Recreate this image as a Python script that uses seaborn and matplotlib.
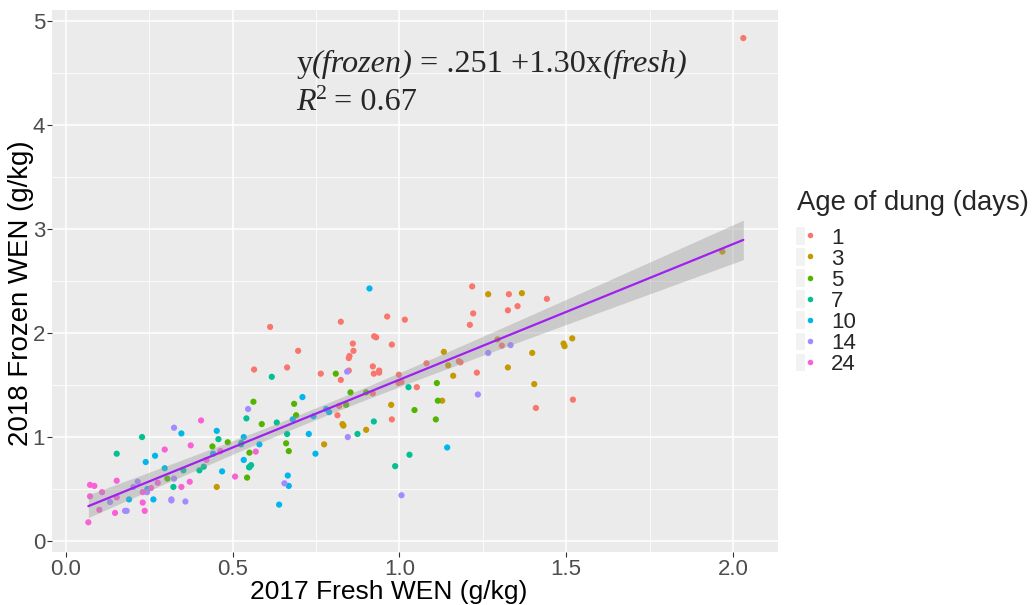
import numpy as np
import pandas as pd
import matplotlib
matplotlib.use("Agg")
import matplotlib.pyplot as plt
import matplotlib.transforms as mtransforms
import seaborn as sns
from matplotlib.lines import Line2D
from matplotlib.patches import Patch
from matplotlib.legend_handler import HandlerTuple
from matplotlib.ticker import MultipleLocator

# ---- data ----
age_levels = ["1", "3", "5", "7", "10", "14", "24"]

fresh_1 = [0.612, 0.696, 0.564, 0.663, 0.924, 0.93, 0.977, 0.86, 0.862, 0.85, 0.848, 0.848, 0.764, 0.824,
           0.92, 0.923, 0.939, 0.939, 0.998, 0.997, 1.006, 0.92, 0.819, 0.814, 0.977, 1.052, 1.081, 1.178,
           1.183, 1.232, 1.307, 1.409, 0.824, 0.963, 1.016, 1.218, 1.328, 1.325, 1.354, 1.442, 1.221, 1.211,
           1.52, 2.031]
frozen_1 = [2.06, 1.83, 1.65, 1.67, 1.97, 1.96, 1.89, 1.90, 1.83, 1.78, 1.76, 1.64, 1.61, 1.55,
            1.68, 1.61, 1.64, 1.62, 1.60, 1.52, 1.53, 1.42, 1.30, 1.21, 1.17, 1.48, 1.71, 1.73,
            1.72, 1.62, 1.88, 1.28, 2.11, 2.16, 2.13, 2.45, 2.375, 2.22, 2.26, 2.33, 2.19, 2.08,
            1.36, 4.84]

fresh_3 = [0.452, 0.774, 0.829, 0.832, 0.90, 0.975, 1.128, 1.133, 1.146, 1.161, 1.294, 1.398, 1.325, 1.404,
           1.266, 1.367, 1.492, 1.495, 1.518, 1.968]
frozen_3 = [0.52, 0.93, 1.125, 1.11, 1.07, 1.31, 1.35, 1.82, 1.69, 1.59, 1.94, 1.81, 1.67, 1.51,
            2.375, 2.385, 1.90, 1.875, 1.95, 2.785]

fresh_5 = [0.304, 0.684, 0.69, 0.66, 0.668, 0.587, 0.562, 0.55, 0.543, 0.485, 0.439, 0.809, 0.853, 0.90,
           0.84, 1.045, 1.112, 1.115, 1.109]
frozen_5 = [0.60, 1.32, 1.21, 0.94, 0.865, 1.125, 1.34, 0.85, 0.61, 0.95, 0.91, 1.61, 1.43, 1.43,
            1.31, 1.26, 1.52, 1.35, 1.17]

fresh_7 = [0.152, 0.322, 0.663, 0.632, 0.541, 0.526, 0.525, 0.549, 0.555, 0.55, 0.457, 0.413, 0.40, 0.228,
           0.352, 0.617, 0.874, 0.923, 1.027, 0.987, 1.03]
frozen_7 = [0.84, 0.52, 1.03, 1.14, 1.18, 0.945, 0.93, 0.71, 0.73, 0.71, 0.98, 0.715, 0.68, 1.0,
            0.68, 1.58, 1.03, 1.15, 1.48, 0.72, 0.83]

fresh_10 = [0.239, 0.267, 0.189, 0.244, 0.262, 0.296, 0.709, 0.68, 0.728, 0.665, 0.668, 0.639, 0.58, 0.533,
            0.533, 0.452, 0.441, 0.468, 0.346, 0.748, 0.78, 0.789, 0.742, 0.91, 1.143]
frozen_10 = [0.76, 0.82, 0.40, 0.50, 0.40, 0.70, 1.385, 1.17, 1.03, 0.63, 0.53, 0.35, 0.93, 0.78,
             1.0, 1.06, 0.84, 0.67, 1.035, 0.84, 1.27, 1.24, 1.20, 2.43, 0.90]

fresh_14 = [0.132, 0.177, 0.182, 0.202, 0.215, 0.243, 0.316, 0.316, 0.324, 0.324, 0.358, 0.546, 0.655, 0.843,
            0.845, 1.006, 1.235, 1.266, 1.333]
frozen_14 = [0.375, 0.29, 0.29, 0.52, 0.57, 0.47, 0.40, 0.39, 0.60, 1.09, 0.38, 1.27, 0.555, 1.63,
             1.0, 0.44, 1.41, 1.81, 1.885]

fresh_24 = [0.072, 0.085, 0.152, 0.072, 0.108, 0.152, 0.10, 0.147, 0.067, 0.23, 0.23, 0.236, 0.255, 0.275,
            0.296, 0.405, 0.421, 0.374, 0.371, 0.346, 0.569, 0.507, 0.463]
frozen_24 = [0.54, 0.53, 0.58, 0.43, 0.47, 0.42, 0.30, 0.27, 0.18, 0.47, 0.37, 0.29, 0.51, 0.56,
             0.88, 1.16, 0.78, 0.92, 0.57, 0.52, 0.86, 0.62, 0.865]

groups = {
    "1": (fresh_1, frozen_1), "3": (fresh_3, frozen_3), "5": (fresh_5, frozen_5),
    "7": (fresh_7, frozen_7), "10": (fresh_10, frozen_10), "14": (fresh_14, frozen_14),
    "24": (fresh_24, frozen_24),
}
rows = []
for age, (xs, ys) in groups.items():
    for xv, yv in zip(xs, ys):
        rows.append((xv, yv, age))
df = pd.DataFrame(rows, columns=["fresh", "frozen", "age"])

palette = ["#F8766D", "#C49A00", "#53B400", "#00C094", "#00B6EB", "#A58AFF", "#FB61D7"]
pal = dict(zip(age_levels, palette))

# ---- plot ----
sns.set_theme(style="white")
plt.rcParams["font.family"] = ["Liberation Sans", "DejaVu Sans"]

fig = plt.figure(figsize=(10.34, 6.05), dpi=100)
ax = fig.add_axes([52 / 1034, 1 - 552 / 605, (778 - 52) / 1034, (552 - 10) / 605])
ax.set_facecolor("#EBEBEB")

sns.scatterplot(data=df, x="fresh", y="frozen", hue="age", hue_order=age_levels,
                palette=pal, s=20, edgecolor="none", linewidth=0, legend=False, ax=ax, zorder=2)

# linear-model confidence band (analytical, like geom_smooth(method="lm"))
xv = df["fresh"].to_numpy()
yv = df["frozen"].to_numpy()
n = len(xv)
slope, intercept = np.polyfit(xv, yv, 1)
resid = yv - (intercept + slope * xv)
s_err = np.sqrt(np.sum(resid ** 2) / (n - 2))
xg = np.linspace(xv.min(), xv.max(), 100)
yg = intercept + slope * xg
se = s_err * np.sqrt(1 / n + (xg - xv.mean()) ** 2 / np.sum((xv - xv.mean()) ** 2))
tval = 1.974
ax.fill_between(xg, yg - tval * se, yg + tval * se, color=(0.6, 0.6, 0.6), alpha=0.4,
                linewidth=0, zorder=3)
sns.regplot(data=df, x="fresh", y="frozen", scatter=False, ci=None, color="#A020F0",
            line_kws={"lw": 1.6, "zorder": 4}, ax=ax)

ax.set_xlim(-0.042, 2.135)
ax.set_ylim(-0.106, 5.11)
ax.xaxis.set_minor_locator(MultipleLocator(0.25))
ax.yaxis.set_minor_locator(MultipleLocator(0.5))
ax.set_xticks([0, 0.5, 1.0, 1.5, 2.0])
ax.set_xticklabels(["0.0", "0.5", "1.0", "1.5", "2.0"])
ax.set_yticks([0, 1, 2, 3, 4, 5])
ax.set_yticklabels(["0", "1", "2", "3", "4", "5"])
ax.grid(which="major", color="white", lw=1.1, zorder=0)
ax.grid(which="minor", color="white", lw=0.55, zorder=0)
ax.set_axisbelow(True)
for s in ax.spines.values():
    s.set_visible(False)
ax.tick_params(which="major", length=3.5, width=0.8, color="#333333", labelcolor="#4D4D4D",
               labelsize=16, pad=1.5, bottom=True, left=True)
ax.tick_params(which="minor", length=0, bottom=False, left=False)

ax.set_xlabel("2017 Fresh WEN (g/kg)", fontsize=19, color="black")
ax.set_ylabel("2018 Frozen WEN (g/kg)", fontsize=19.9, color="black")
ax.xaxis.set_label_coords((389 - 52) / 726, -(604 - 552) / 542)
ax.xaxis.label.set_va("bottom")
ax.yaxis.set_label_coords(-(52 - 34) / 726, (552 - 293) / 542)

# ---- equation annotation built from pieces (upright / italic) ----
fig.canvas.draw()
renderer = fig.canvas.get_renderer()
eq_size = 23.2


def place_pieces(pieces, x0, y0):
    offset = 0.0
    for txt, style, size, rise, gap in pieces:
        offset += gap
        tr = mtransforms.offset_copy(ax.transData, fig=fig, x=offset, y=rise, units="dots")
        t = ax.text(x0, y0, txt, fontsize=size, family="Liberation Serif", style=style,
                    ha="left", va="baseline", transform=tr, zorder=5)
        offset += t.get_window_extent(renderer=renderer).width


place_pieces([
    ("y", "normal", eq_size, 0, 0),
    ("(frozen)", "italic", eq_size, 0, 0),
    ("= .251 +1.30x", "normal", eq_size, 0, 7),
    ("(fresh)", "italic", eq_size, 0, 1),
], 0.69, 4.51)
place_pieces([
    ("R", "italic", eq_size, 0, 0),
    ("2", "normal", eq_size * 0.68, 11, 0.5),
    ("= 0.67", "normal", eq_size, 0, 7),
], 0.69, 4.144)

# ---- legend ----
fig.text(797 / 1034, 1 - 203 / 605, "Age of dung (days)", fontsize=19.8, ha="left", va="center")
handles = [(Patch(facecolor="#F2F2F2", edgecolor="none"),
            Line2D([], [], marker="o", ls="", color=c, markersize=4, markeredgewidth=0))
           for c in palette]
leg = fig.legend(handles, age_levels, handler_map={tuple: HandlerTuple(ndivide=None, pad=0)},
                 loc="upper left", bbox_to_anchor=(796 / 1034, 1 - 227 / 605),
                 frameon=False, fontsize=16,
                 handlelength=0.85, handleheight=0.85, handletextpad=0.72, labelspacing=-0.02,
                 borderaxespad=0, borderpad=0)

fig.savefig("out.png", dpi=100)
